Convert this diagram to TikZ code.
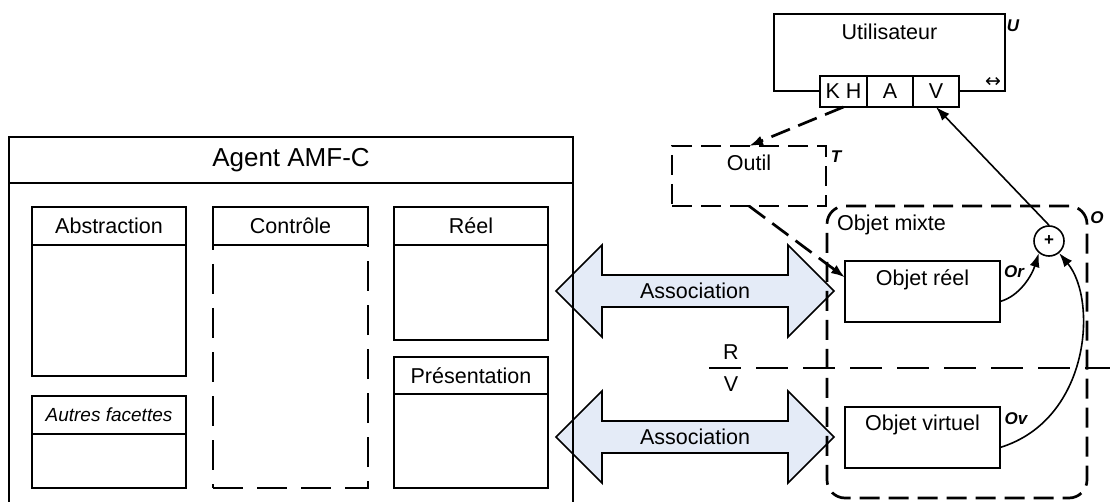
\documentclass[tikz,border=0pt]{standalone}
\usepackage{fontspec}
\setmainfont{Liberation Sans}
\newfontfamily\symfont{DejaVu Sans}
\usetikzlibrary{arrows.meta,positioning}

\definecolor{assocblue}{RGB}{228,235,247}

\begin{document}
\begin{tikzpicture}[
  x=1pt, y=-1pt,
  every node/.style={inner sep=0pt,font=\fontsize{21.5}{24}\selectfont},
  box/.style={draw,line width=1.7pt,outer sep=0pt},
  strip/.style={box,minimum height=38pt},
  dbox/.style={draw,line width=2.7pt,dash pattern=on 20pt off 9pt,outer sep=0pt},
  tag/.style={font=\fontsize{17}{19}\selectfont\bfseries\itshape},
  arrow/.style={-{Latex[length=14pt,width=10pt]},line width=1.6pt},
  darrow/.style={arrow,line width=2.7pt,dash pattern=on 20pt off 9pt},
  assoc/.style={draw,line width=1.7pt,fill=assocblue}
]
  \useasboundingbox (0,0) rectangle (1110,502);
  \clip (0,0) rectangle (1110,502);

  % association arrows
  \foreach \y/\name in {291/assoctop,437/assocbot} {
    \draw[assoc] (556,\y) -- ++(46,-46) -- ++(0,30) -- (788,\y-16) -- ++(0,-30)
      -- (834,\y) -- ++(-46,46) -- ++(0,-30) -- (602,\y+16) -- ++(0,30) -- cycle;
    \node (\name) at (695,\y) {Association};
  }

  % agent
  \node[strip,minimum width=564pt,minimum height=46pt,anchor=north west,
        font=\fontsize{26}{30}\selectfont] (agent) at (9,137) {Agent AMF-C};
  \node[box,minimum width=564pt,minimum height=340pt,below=0pt of agent] (agentbody) {};

  \node[strip,minimum width=154pt,anchor=north west] (abs) at (32,207) {Abstraction};
  \node[box,minimum width=154pt,minimum height=131pt,below=0pt of abs] (absbody) {};
  \node[strip,minimum width=154pt,anchor=north west,
        font=\fontsize{19}{22}\selectfont\itshape] (other) at (32,396) {Autres facettes};
  \node[box,minimum width=154pt,minimum height=54pt,below=0pt of other] (otherbody) {};
  \node[strip,minimum width=155pt,anchor=north west] (ctrl) at (213,207) {Contrôle};
  \node[dbox,dash pattern=on 30pt off 14pt,minimum width=155pt,minimum height=243pt,
        below=0pt of ctrl] (ctrlbody) {};
  \node[strip,minimum width=154pt,anchor=north west] (real) at (394,207) {Réel};
  \node[box,minimum width=154pt,minimum height=95pt,below=0pt of real] (realbody) {};
  \node[strip,minimum width=154pt,minimum height=37pt,anchor=north west] (pres) at (394,357) {Présentation};
  \node[box,minimum width=154pt,minimum height=94pt,below=0pt of pres] (presbody) {};

  % user
  \node[box,minimum width=231pt,minimum height=77pt,anchor=north west] (user) at (774,14) {};
  \node[anchor=north] (usertext) at ([yshift=-10pt]user.north) {Utilisateur};
  \node[box,fill=white,minimum width=47pt,minimum height=31pt,anchor=north west] (khcell) at (820,76) {K H};
  \node[box,fill=white,minimum width=46pt,minimum height=31pt,right=0pt of khcell] (acell) {A};
  \node[box,fill=white,minimum width=46pt,minimum height=31pt,right=0pt of acell] (vcell) {V};
  \node[tag] (utag) at (1013,26) {U};
  \node[font=\symfont\fontsize{19}{21}\selectfont] (swap) at (993,82) {↔};

  % tool
  \node[dbox,minimum width=154pt,minimum height=60pt,anchor=north west] (tool) at (672,146) {};
  \node[anchor=north] (tooltext) at ([yshift=-9pt]tool.north) {Outil};
  \node[tag] (ttag) at (836,157) {T};

  % mixed object
  \node[dbox,rounded corners=18pt,minimum width=260pt,minimum height=292pt,anchor=north west] (mixed) at (827,206) {};
  \node[anchor=north west] (mixedtext) at ([xshift=10pt,yshift=-9pt]mixed.north west) {Objet mixte};
  \node[tag] (otag) at (1097,218) {O};
  \node[box,minimum width=155pt,minimum height=61pt,anchor=north west] (realobj) at (845,261) {};
  \node[anchor=north] (realobjtext) at ([yshift=-8pt]realobj.north) {Objet réel};
  \node[box,minimum width=155pt,minimum height=61pt,anchor=north west] (virtobj) at (845,407) {};
  \node[anchor=north] (virtobjtext) at ([yshift=-8pt]virtobj.north) {Objet virtuel};
  \node[draw,circle,line width=1.6pt,minimum size=30pt,
        font=\fontsize{17}{19}\selectfont\bfseries] (plus) at (1049,241) {+};
  \node[tag] (ortag) at (1014,272) {Or};
  \node[tag] (ovtag) at (1016,419) {Ov};

  % R / V
  \coordinate (rvleft) at (709,368);
  \coordinate (rvright) at (1110,368);
  \draw[line width=2.7pt,dash pattern=on 32pt off 15pt] (rvleft) -- (rvright);
  \node (rtext) at (731,352) {R};
  \node (vtext) at (731,384) {V};

  \draw[arrow] (plus.north) -- (vcell.south);
  \draw[darrow] (khcell.south) -- (tool.north);
  \draw[darrow] (tool.south) -- ([yshift=14pt]realobj.west);
  \draw[arrow] ([yshift=-10pt]realobj.east) .. controls (1020,296) and (1032,275) .. (plus.230);
  \draw[arrow] ([yshift=-10pt]virtobj.east) .. controls (1090,420) and (1098,300) .. (plus.310);
\end{tikzpicture}
\end{document}
